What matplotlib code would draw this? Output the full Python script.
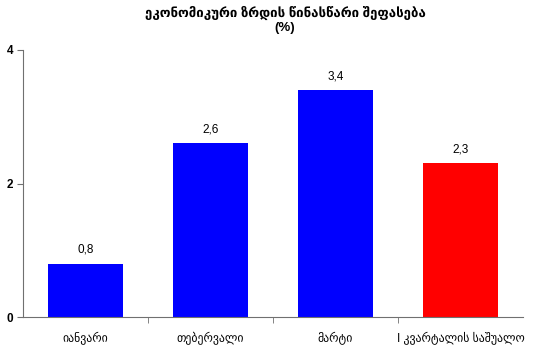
import numpy as np
import matplotlib
matplotlib.use("Agg")
import matplotlib.pyplot as plt

plt.rcParams['font.family'] = ['Liberation Sans', 'DejaVu Sans']

categories = ["იანვარი", "თებერვალი", "მარტი", "I კვარტალის საშუალო"]
values = [0.8, 2.6, 3.4, 2.3]
value_labels = ["0,8", "2,6", "3,4", "2,3"]
bar_colors = ["#0000FF", "#0000FF", "#0000FF", "#FF0000"]

fig = plt.figure(figsize=(5.58, 3.49), dpi=100)
ax = fig.add_axes([23/558, 32/349, 500/558, 267/349])

x = np.arange(len(categories))
ax.bar(x, values, width=0.6, color=bar_colors)

for xi, v, lab in zip(x, values, value_labels):
    ax.text(xi, v + 0.12, lab, ha="center", va="bottom", fontsize=8.5)

ax.set_xlim(-0.5, len(categories) - 0.5)
ax.set_ylim(0, 4)
ax.set_yticks([0, 2, 4])
ax.set_yticklabels(["0", "2", "4"], fontsize=8.5, fontweight="bold")

ax.set_xticks(x)
ax.set_xticklabels(categories, fontsize=8.5)
ax.tick_params(axis="x", which="major", length=0, pad=11)
ax.set_xticks(np.arange(0.5, len(categories) - 0.5, 1), minor=True)
ax.tick_params(axis="x", which="minor", length=4, color="#707070")
ax.tick_params(axis="y", length=4, color="#707070", pad=3)

for side in ["top", "right"]:
    ax.spines[side].set_visible(False)
for side in ["left", "bottom"]:
    ax.spines[side].set_color("#707070")

fig.text(285/558, 1 - 13/349, "ეკონომიკური ზრდის წინასწარი შეფასება",
         ha="center", va="center", fontsize=9.5, fontweight="bold")
fig.text(285/558, 1 - 28/349, "(%)", ha="center", va="center",
         fontsize=9.5, fontweight="bold")

fig.savefig("out.png", dpi=100)
